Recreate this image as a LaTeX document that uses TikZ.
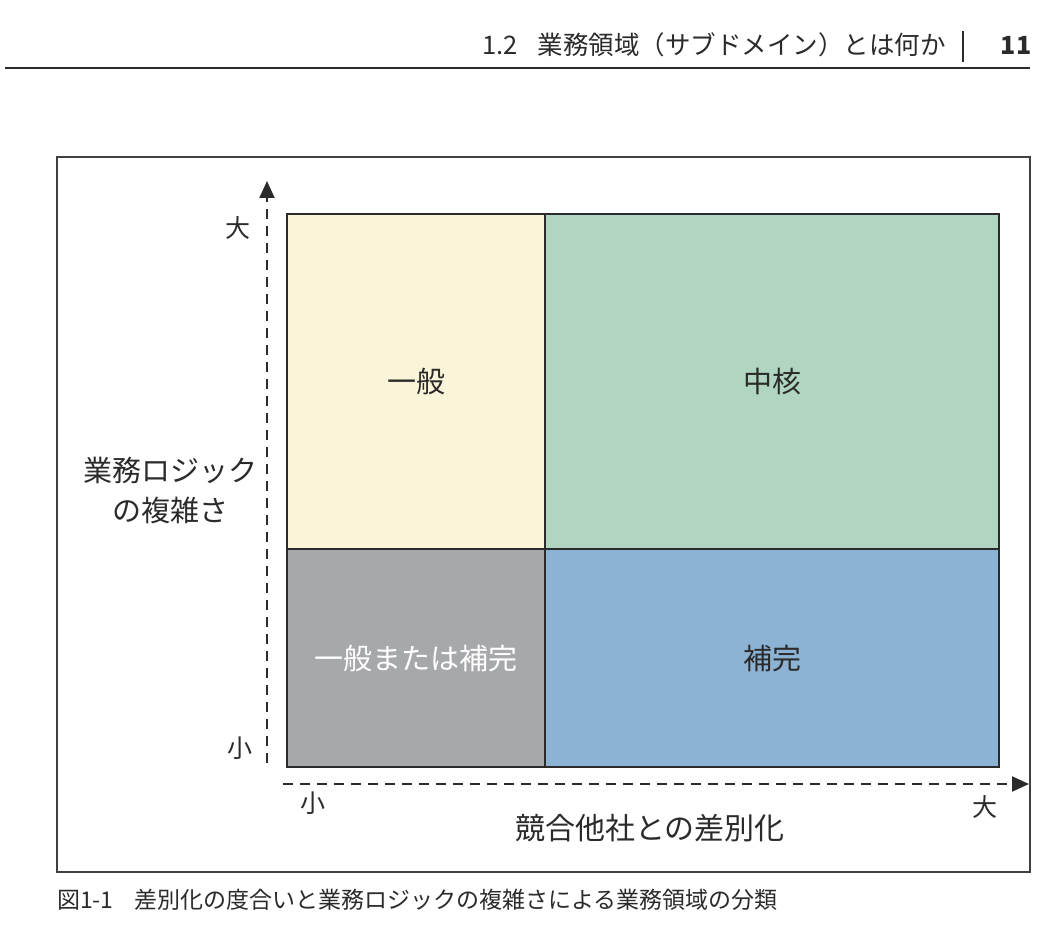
\documentclass[tikz,border=0pt]{standalone}
\usepackage{fontspec}
\newfontfamily\jp{Noto Sans CJK JP}
\usetikzlibrary{arrows.meta,positioning}
\definecolor{ippan}{HTML}{FAF4D9}
\definecolor{chukaku}{HTML}{B0D6C1}
\definecolor{mata}{HTML}{A7A8AB}
\definecolor{hokan}{HTML}{8CB3D4}
\definecolor{ink}{HTML}{2B2B2B}
\tikzset{
    cell/.style={draw=ink, line width=2.2pt, anchor=north west, inner sep=0pt,
        text=ink, font=\jp\fontsize{29}{34}\selectfont},
    axis/.style={draw=ink, line width=2pt, dash pattern=on 10pt off 7pt,
        -{Triangle[length=17pt,width=15pt]}},
    tick/.style={text=ink, font=\jp\fontsize{25}{28}\selectfont, inner sep=0pt},
}
\begin{document}
\begin{tikzpicture}[x=1pt,y=-1pt]
    \useasboundingbox[fill=white] (0,0) rectangle (1060,936);
    % page header
    \node[anchor=base east, text=ink, font=\jp\fontsize{25.5}{28}\selectfont, inner sep=0pt]
        (head) at (946,55) {1.2\hspace{0.8em}業務領域（サブドメイン）とは何か};
    \draw[ink, line width=2.5pt] (963,31) -- (963,62);
    \node[anchor=base, text=ink, font=\jp\bfseries\fontsize{25}{28}\selectfont, inner sep=0pt]
        (page) at (1016,55) {11};
    \draw[ink, line width=1.6pt] (5,68) -- (1030,68);
    % frame
    \draw[black!75, line width=1.4pt] (57,157) rectangle (1030,872);
    % four domains
    \node[cell, fill=ippan, minimum width=258pt, minimum height=335pt] (ippan) at (286,213) {一般};
    \node[cell, fill=chukaku, minimum width=454pt, minimum height=335pt] (chukaku) at (544,213) {中核};
    \node[cell, fill=mata, text=white, minimum width=258pt, minimum height=218pt] (mata) at (286,548) {一般または補完};
    \node[cell, fill=hokan, minimum width=454pt, minimum height=218pt] (hokan) at (544,548) {補完};
    % axes
    \coordinate (yfrom) at (267,763);
    \coordinate (yto) at (267,181);
    \coordinate (xfrom) at (283,784);
    \coordinate (xto) at (1029,784);
    \draw[axis] (yfrom) -- (yto);
    \draw[axis] (xfrom) -- (xto);
    \node[tick] (ybig) at (238,228) {大};
    \node[tick] (ysmall) at (240,748) {小};
    \node[tick] (xsmall) at (313,803) {小};
    \node[tick] (xbig) at (985,807) {大};
    \node[text=ink, font=\jp\fontsize{30}{34}\selectfont, inner sep=0pt] (xlabel) at (650,828) {競合他社との差別化};
    \node[text=ink, font=\jp\fontsize{29}{40}\selectfont, align=center, inner sep=0pt] (ylabel) at (170,490) {業務ロジック\\の複雑さ};
    % caption
    \node[anchor=west, text=ink, font=\jp\fontsize{23}{27}\selectfont, inner sep=0pt]
        (caption) at (57,900) {図1-1\hspace{0.9em}差別化の度合いと業務ロジックの複雑さによる業務領域の分類};
\end{tikzpicture}
\end{document}
